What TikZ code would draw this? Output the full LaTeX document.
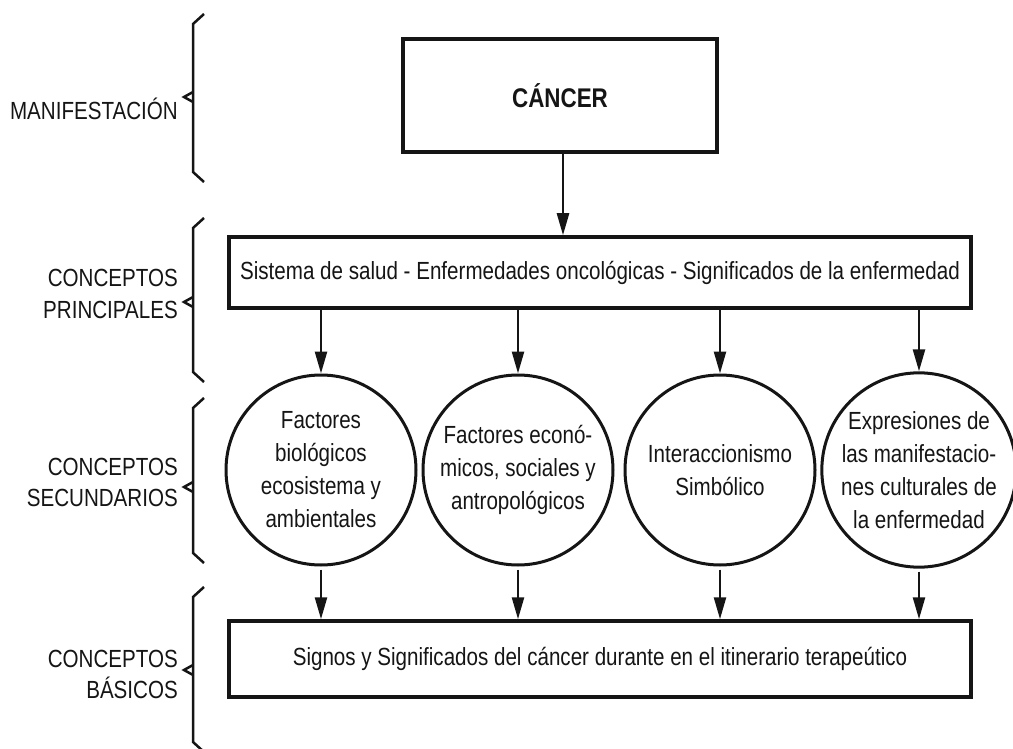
\documentclass[tikz,border=0pt]{standalone}
\usepackage{fontspec}
\setmainfont{Liberation Sans}[FakeStretch=0.83]
\usetikzlibrary{arrows.meta}
\definecolor{ink}{HTML}{151515}
\begin{document}
\begin{tikzpicture}[x=1pt,y=-1pt,
  txt/.style={font=\fontsize{24.8}{33}\selectfont, text=ink},
  box/.style={draw=ink, line width=3.5pt, rectangle, inner sep=0pt, txt},
  circ/.style={draw=ink, line width=3pt, circle, minimum size=190pt, inner sep=0pt, align=center, txt},
  arr/.style={draw=ink, line width=2.5pt, -{Triangle[length=22pt,width=12pt]}},
  brk/.style={draw=ink, line width=2.5pt, line join=miter},
  lbl/.style={txt, anchor=base east, inner sep=0pt}]
\useasboundingbox (0,0) rectangle (1013,749);

% brackets with notch
\foreach \t/\b/\n in {14/182/97, 218/382/302, 398/563/487, 587/752/670} {
  \draw[brk] (204,\t) -- (193,\t+10) -- (193,\b-10) -- (204,\b);
  \draw[brk] (193,\n-5) -- (184,\n) -- (193,\n+5);
}

% level labels
\node[lbl] (lm)  at (178,120) {MANIFESTACIÓN};
\node[lbl] (lp1) at (178,287) {CONCEPTOS};
\node[lbl] (lp2) at (178,318) {PRINCIPALES};
\node[lbl] (ls1) at (178,475) {CONCEPTOS};
\node[lbl] (ls2) at (178,506) {SECUNDARIOS};
\node[lbl] (lb1) at (178,667) {CONCEPTOS};
\node[lbl] (lb2) at (178,698) {BÁSICOS};

% main nodes
\node[box, minimum width=314pt, minimum height=113pt, font=\fontsize{27}{33}\selectfont\bfseries] (cancer) at (560,95.5) {CÁNCER};
\node[box, minimum width=742pt, minimum height=71pt] (princ) at (600,272.5)
  {Sistema de salud - Enfermedades oncológicas - Significados de la enfermedad};
\node[circ] (c1) at (321,470) {Factores\\biológicos\\ecosistema y\\ambientales};
\node[circ] (c2) at (518,470) {Factores econó-\\micos, sociales y\\antropológicos};
\node[circ] (c3) at (720,470) {Interaccionismo\\Simbólico};
\node[circ] (c4) at (919,470) {Expresiones de\\las manifestacio-\\nes culturales de\\la enfermedad};
\node[box, minimum width=742pt, minimum height=76pt] (basic) at (600,659)
  {Signos y Significados del cáncer durante en el itinerario terapeútico};

% connectors
\draw[arr] ([xshift=3pt]cancer.south) -- ([xshift=3pt]cancer.south |- princ.north);
\foreach \c in {c1,c2,c3,c4} {
  \draw[arr] (\c |- princ.south) -- (\c.north);
  \draw[arr] ([yshift=-3pt]\c.south) -- (\c |- basic.north);
}
\end{tikzpicture}
\end{document}
